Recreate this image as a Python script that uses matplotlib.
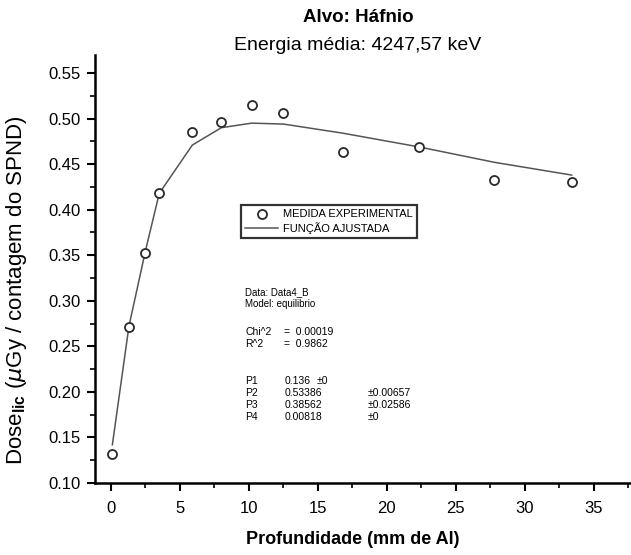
import matplotlib
matplotlib.use("Agg")
import matplotlib.pyplot as plt
from matplotlib.ticker import MultipleLocator, FormatStrFormatter

plt.rcParams['font.family'] = ['Liberation Sans', 'DejaVu Sans']
plt.rcParams['mathtext.fontset'] = 'custom'
plt.rcParams['mathtext.rm'] = 'Liberation Sans'
plt.rcParams['mathtext.bf'] = 'Liberation Sans:bold'

# Measured dose per SPND count versus aluminium depth
depth_mm = [0.1, 1.3, 2.5, 3.5, 5.9, 8.0, 10.2, 12.5, 16.8, 22.3, 27.8, 33.4]
dose_measured = [0.132, 0.271, 0.352, 0.418, 0.485, 0.496, 0.515, 0.506,
                 0.463, 0.469, 0.433, 0.430]
# Fitted model evaluated at the same depths
dose_fit = [0.142, 0.272, 0.355, 0.418, 0.471, 0.490, 0.495, 0.494,
            0.484, 0.469, 0.452, 0.438]

x_ticks = [0, 5, 10, 15, 20, 25, 30, 35]
y_ticks = [0.10, 0.15, 0.20, 0.25, 0.30, 0.35, 0.40, 0.45, 0.50, 0.55]

W, H = 631, 555
fig = plt.figure(figsize=(W / 100, H / 100), dpi=100)
ax = fig.add_axes([95 / W, 72 / H, 536 / W, 428 / H])

ink = '#2a2a2a'
fit_line, = ax.plot(depth_mm, dose_fit, color='#555555', lw=1.1,
                    label='FUNÇÃO AJUSTADA', zorder=2)
pts, = ax.plot(depth_mm, dose_measured, linestyle='none', marker='o',
               markersize=6.5, markerfacecolor='white', markeredgecolor=ink,
               markeredgewidth=1.3, label='MEDIDA EXPERIMENTAL', zorder=3)

ax.set_xlim(-1.16, 37.7)
ax.set_ylim(0.10, 0.5698)
ax.set_xticks(x_ticks)
ax.set_yticks(y_ticks)
ax.xaxis.set_minor_locator(MultipleLocator(2.5))
ax.yaxis.set_minor_locator(MultipleLocator(0.025))
ax.yaxis.set_major_formatter(FormatStrFormatter('%.2f'))

for side in ('top', 'right'):
    ax.spines[side].set_visible(False)
for side in ('left', 'bottom'):
    ax.spines[side].set_linewidth(1.8)
    ax.spines[side].set_color('black')

ax.tick_params(which='major', direction='out', length=6, width=1.5,
               labelsize=12, pad=4, colors='black')
ax.tick_params(which='minor', direction='out', length=3.5, width=1.2)
ax.tick_params(axis='x', which='major', pad=7)

# Titles and axis labels
fig.text(358 / W, 1 - 18 / H, 'Alvo: Háfnio', ha='center', va='center',
         fontsize=13.5, fontweight='bold')
fig.text(358 / W, 1 - 45 / H, 'Energia média: 4247,57 keV', ha='center',
         va='center', fontsize=14)
fig.text(353 / W, 1 - 539 / H, 'Profundidade (mm de Al)', ha='center',
         va='center', fontsize=13, fontweight='bold')
fig.text(17 / W, 1 - 290 / H,
         r'Dose$_{\mathbf{lic}}$ ($\mu$Gy / contagem do SPND)',
         ha='center', va='center', rotation=90, fontsize=16)

# Legend box
leg = ax.legend(handles=[pts, fit_line], loc='upper left',
                bbox_to_anchor=(241 / W, 1 - 205 / H),
                bbox_transform=fig.transFigure, fontsize=8,
                frameon=True, fancybox=False, handlelength=2.9,
                handletextpad=0.45, borderpad=0.4, labelspacing=0.2,
                borderaxespad=0)
leg.get_frame().set_edgecolor('black')
leg.get_frame().set_linewidth(1.6)

# Fit report
def note(px, py, s, size=7.5):
    fig.text(px / W, 1 - py / H, s, ha='left', va='center', fontsize=size)

note(245, 292, 'Data: Data4_B', 7)
note(245, 304, 'Model: equilibrio', 7)
note(245, 332, 'Chi^2')
note(284, 332, '=  0.00019')
note(245, 344, 'R^2')
note(284, 344, '=  0.9862')
rows = [('P1', '0.136', '±0'), ('P2', '0.53386', '±0.00657'),
        ('P3', '0.38562', '±0.02586'), ('P4', '0.00818', '±0')]
for i, (name, val, err) in enumerate(rows):
    y = 381 + i * 12
    note(245, y, name)
    note(285, y, val)
    note(317 if i == 0 else 368, y, err)

fig.savefig('out.png', dpi=100, facecolor='white')
